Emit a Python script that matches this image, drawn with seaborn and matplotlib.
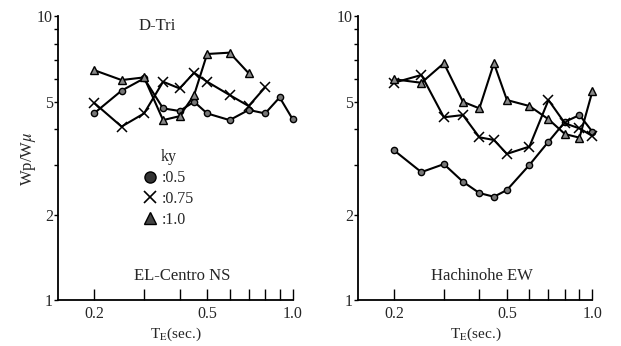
import numpy as np
import pandas as pd
import matplotlib
matplotlib.use("Agg")
import matplotlib.pyplot as plt
from matplotlib.lines import Line2D
from matplotlib.ticker import FixedLocator, FixedFormatter, NullLocator, NullFormatter
import seaborn as sns

# Equivalent period TE (sec.)
period = [0.2, 0.25, 0.3, 0.35, 0.4, 0.45, 0.5, 0.6, 0.7, 0.8, 0.9, 1.0]

# EL-Centro NS, energy ratio Wp/Wmu for each ky
elc_ky050 = [4.54, 5.46, 6.03, 4.73, 4.63, 4.99, 4.54, 4.30, 4.67, 4.54, 5.17, 4.33]
elc_ky075 = [4.95, 4.08, 4.54, 5.87, 5.56, 6.31, 5.87, 5.27, 4.82, 5.61]
elc_ky100 = [6.45, 5.95, 6.08, 4.30, 4.44, 5.27, 7.35, 7.43, 6.29]

# Hachinohe EW
hac_ky050 = [3.37, 2.82, 3.01, 2.61, 2.38, 2.31, 2.44, 2.99, 3.61, 4.24, 4.48, 3.91]
hac_ky075 = [5.82, 6.20, 4.40, 4.48, 3.74, 3.66, 3.27, 3.47, 5.06, 4.19, 4.02, 3.78]
hac_ky100 = [5.99, 5.82, 6.82, 4.99, 4.73, 6.82, 5.06, 4.82, 4.33, 3.84, 3.73, 5.45]

ky_labels = ["0.5", "0.75", "1.0"]
x_ticks = [0.2, 0.3, 0.4, 0.5, 0.6, 0.7, 0.8, 0.9, 1.0]
x_ticklabels = ["0.2", "", "", "0.5", "", "", "", "", "1.0"]
y_ticks = [1, 2, 5, 10]
y_minor = [3, 4, 6, 7, 8, 9]

sns.set_style("ticks")
plt.rcParams["font.family"] = ["Liberation Serif", "DejaVu Serif"]
plt.rcParams["mathtext.fontset"] = "stix"

line_styles = {
    "0.5": dict(marker="o", markersize=4.5, markerfacecolor="#777777", markeredgecolor="black", markeredgewidth=1.0),
    "0.75": dict(marker="x", markersize=7, markeredgecolor="black", markeredgewidth=1.1),
    "1.0": dict(marker="^", markersize=5.5, markerfacecolor="#888888", markeredgecolor="black", markeredgewidth=1.0),
}
legend_styles = {
    "0.5": dict(marker="o", markersize=8, markerfacecolor="#333333", markeredgecolor="black", markeredgewidth=1.0),
    "0.75": dict(marker="x", markersize=9, markeredgecolor="black", markeredgewidth=1.2),
    "1.0": dict(marker="^", markersize=9, markerfacecolor="#444444", markeredgecolor="black", markeredgewidth=1.0),
}

def make_frame(series):
    rows = []
    for ky, vals in zip(ky_labels, series):
        for t, v in zip(period, vals):
            rows.append({"T": t, "W": v, "ky": ky})
    return pd.DataFrame(rows)

fig = plt.figure(figsize=(6.21, 3.46), dpi=100)
w, h = 0.3771, 0.8208
ax1 = fig.add_axes([0.0942, 0.1329, w, h])
ax2 = fig.add_axes([0.5770, 0.1329, w, h])

panels = [
    (ax1, [elc_ky050, elc_ky075, elc_ky100], "EL-Centro NS"),
    (ax2, [hac_ky050, hac_ky075, hac_ky100], "Hachinohe EW"),
]

for ax, series, name in panels:
    df = make_frame(series)
    for ky in ky_labels:
        sub = df[df["ky"] == ky]
        sns.lineplot(data=sub, x="T", y="W", ax=ax, color="black", linewidth=1.5,
                     sort=False, estimator=None, legend=False, clip_on=False, **line_styles[ky])
    ax.set_xscale("log")
    ax.set_yscale("log")
    ax.set_xlim(0.15, 1.0)
    ax.set_ylim(1, 10)
    ax.xaxis.set_major_locator(FixedLocator(x_ticks))
    ax.xaxis.set_major_formatter(FixedFormatter(x_ticklabels))
    ax.xaxis.set_minor_locator(NullLocator())
    ax.xaxis.set_minor_formatter(NullFormatter())
    ax.yaxis.set_major_locator(FixedLocator(y_ticks))
    ax.yaxis.set_major_formatter(FixedFormatter([str(v) for v in y_ticks]))
    ax.yaxis.set_minor_locator(FixedLocator(y_minor))
    ax.yaxis.set_minor_formatter(NullFormatter())
    ax.tick_params(axis="x", which="major", direction="in", length=8, width=1.0,
                   labelsize=11.5, pad=4, color="black")
    ax.tick_params(axis="y", which="both", direction="out", length=3, width=1.0,
                   labelsize=11.5, pad=1, color="black")
    for s in ["top", "right"]:
        ax.spines[s].set_visible(False)
    for s in ["left", "bottom"]:
        ax.spines[s].set_color("black")
        ax.spines[s].set_linewidth(1.3)
    ax.set_xlabel("T$_{\\rm E}$(sec.)", fontsize=11, labelpad=3)
    ax.set_ylabel("")
    ax.text(0.53, 0.085, name, transform=ax.transAxes, ha="center", va="center", fontsize=12)

fig.text(0.046, 0.54, "Wp/W$\\mu$", rotation=90, ha="center", va="center", fontsize=12)
ax1.text(0.42, 0.965, "D-Tri", transform=ax1.transAxes, ha="center", va="center", fontsize=12)

handles = [Line2D([], [], linestyle="none", color="black", **legend_styles[k]) for k in ky_labels]
leg = ax1.legend(handles, [":" + k for k in ky_labels], title="ky", loc="upper center",
                 bbox_to_anchor=(0.47, 0.57), frameon=False, fontsize=11.5, title_fontsize=11.5,
                 handlelength=0.9, handletextpad=0.3, labelspacing=0.3, borderpad=0.2)

fig.savefig("out.png", dpi=100)
